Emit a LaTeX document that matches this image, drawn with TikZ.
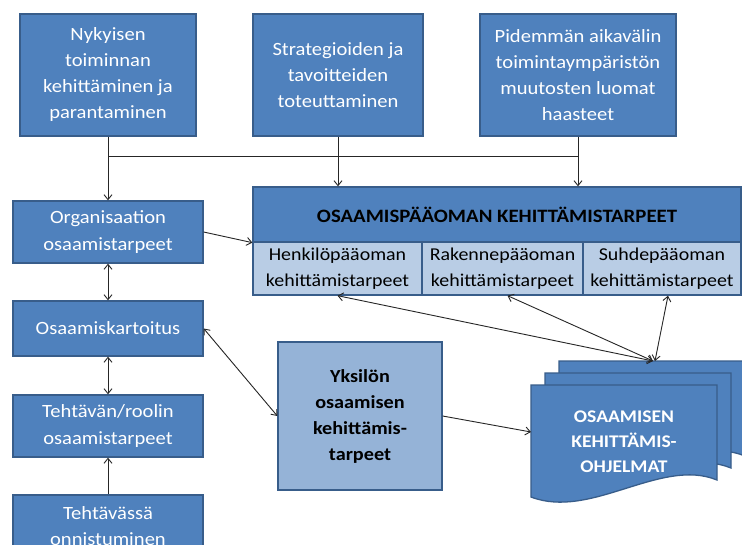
\documentclass[tikz,border=0pt]{standalone}
\usepackage{fontspec}
\setmainfont{Carlito}[FakeStretch=1.1]
\usetikzlibrary{arrows.meta}
\definecolor{bfill}{HTML}{4F81BD}
\definecolor{bdraw}{HTML}{385D8A}
\definecolor{lfill}{HTML}{B9CDE5}
\definecolor{mfill}{HTML}{95B3D7}
\tikzset{
  >={Straight Barb[length=5pt,width=8pt]},
  bluebox/.style={draw=bdraw, line width=1.3pt, fill=bfill, text=white, align=center, inner sep=0pt,
    font=\fontsize{18.7}{26}\selectfont},
  subbox/.style={draw=bdraw, line width=1.3pt, fill=lfill, text=black, align=center, inner sep=0pt,
    font=\fontsize{18.1}{26}\selectfont},
  conn/.style={line width=0.9pt, draw=black!85},
  docpath/.style={draw=bdraw, line width=1.3pt, fill=bfill},
}
\begin{document}
\begin{tikzpicture}[x=1pt,y=-1pt]
\useasboundingbox (0,0) rectangle (742,544);
\clip (0,0) rectangle (742,544);
\fill[white] (0,0) rectangle (742,544);
% top boxes
\node[bluebox, minimum width=176pt, minimum height=122pt] (n1) at (108,75) {Nykyisen\\toiminnan\\kehittäminen ja\\parantaminen};
\node[bluebox, minimum width=170pt, minimum height=122pt] (n2) at (338,75) {Strategioiden ja\\tavoitteiden\\toteuttaminen};
\node[bluebox, minimum width=196pt, minimum height=122pt] (n3) at (578,75) {Pidemmän aikavälin\\toimintaympäristön\\muutosten luomat\\haasteet};
% left column
\node[bluebox, minimum width=190pt, minimum height=62pt, font=\fontsize{18.7}{27}\selectfont] (org) at (108,232) {Organisaation\\osaamistarpeet};
\node[bluebox, minimum width=190pt, minimum height=55pt, font=\fontsize{18.7}{27}\selectfont] (kart) at (108,328.5) {Osaamiskartoitus};
\node[bluebox, minimum width=190pt, minimum height=62pt, font=\fontsize{18.7}{27}\selectfont] (teht) at (108,426) {Tehtävän/roolin\\osaamistarpeet};
\node[bluebox, minimum width=190pt, minimum height=62pt, font=\fontsize{18.7}{26}\selectfont] (onn) at (108,526) {Tehtävässä\\onnistuminen};
% big box
\node[bluebox, minimum width=488pt, minimum height=55pt, text=black, font=\fontsize{18.9}{26}\selectfont\bfseries] (title) at (497,214.5) {OSAAMISPÄÄOMAN KEHITTÄMISTARPEET};
\node[subbox, minimum width=169pt, minimum height=53pt] (henk) at (337.5,268.5) {Henkilöpääoman\\kehittämistarpeet};
\node[subbox, minimum width=161pt, minimum height=53pt] (rak) at (502.5,268.5) {Rakennepääoman\\kehittämistarpeet};
\node[subbox, minimum width=158pt, minimum height=53pt] (suhde) at (662,268.5) {Suhdepääoman\\kehittämistarpeet};
% individual box
\node[subbox, fill=mfill, minimum width=164pt, minimum height=148pt, font=\fontsize{18.4}{26}\selectfont\bfseries] (yks) at (360,416) {Yksilön\\osaamisen\\kehittämis-\\tarpeet};
% document stack
\foreach \dx/\dy in {28/-24,14/-12,0/0}{
  \path[docpath, shift={(531+\dx,385+\dy)}] (0,0) -- (186,0) -- (186,95) .. controls (130,72) and (60,135) .. (0,112) -- cycle;
}
\node[text=white, align=center, font=\fontsize{17.8}{25}\selectfont\bfseries] (doc) at (624,442) {OSAAMISEN\\KEHITTÄMIS-\\OHJELMAT};
\coordinate (docin) at (531,432);
\coordinate (doctop) at (653,361);
\coordinate (j1) at (n1.south |- 0,156);
\coordinate (j3) at (n3.south |- 0,156);
% connectors
\draw[conn,->] (n1.south) -- (org.north);
\draw[conn] (j1) -- (j3);
\draw[conn,->] (n2.south) -- (n2.south |- title.north);
\draw[conn,->] (n3.south) -- (n3.south |- title.north);
\draw[conn,->] (org.east) -- (title.south west);
\draw[conn,<->] (org.south) -- (kart.north);
\draw[conn,<->] (kart.south) -- (teht.north);
\draw[conn,->] (onn.north) -- (teht.south);
\draw[conn,<->] (kart.east) -- (yks.west);
\draw[conn,->] (yks.east) -- (docin);
\draw[conn,<->] (henk.south) -- (doctop);
\draw[conn,<->] ([xshift=5pt]rak.south) -- (doctop);
\draw[conn,<->] ([xshift=6pt]suhde.south) -- ([xshift=2pt]doctop);
\end{tikzpicture}
\end{document}
